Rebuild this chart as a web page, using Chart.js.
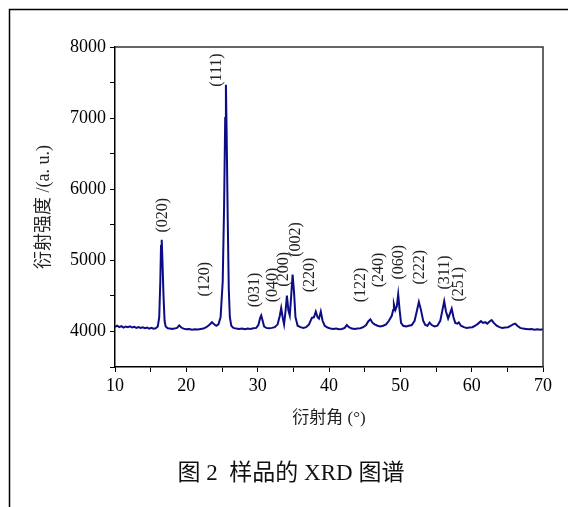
<!DOCTYPE html>
<html>
<head>
<meta charset="utf-8">
<script src="https://cdn.jsdelivr.net/npm/chart.js@4.4.0/dist/chart.umd.min.js"></script>
<style>
  body { margin: 0; background: #fff; }
  canvas { display: block; }
</style>
</head>
<body>
<canvas id="xrd-chart" width="568" height="507"></canvas>
<script>
// Data
const angles = [
  10.0, 10.3, 10.6, 10.9, 11.2, 11.5, 11.8, 12.1, 12.4, 12.7, 13.0, 13.3, 13.6, 13.9, 14.2, 14.5, 14.8, 15.1, 15.4, 15.7,
  16.0, 16.2, 16.35, 16.45, 16.55, 16.65, 16.8, 16.95, 17.1, 17.4, 17.7, 18.0, 18.3, 18.7, 19.0, 19.3, 19.6, 20.0,
  20.4, 20.8, 21.2, 21.6, 22.0, 22.4, 22.8, 23.2, 23.6, 23.9, 24.2, 24.5, 24.8, 25.1, 25.3, 25.45, 25.55, 25.65, 25.8,
  25.95, 26.1, 26.3, 26.6, 27.0, 27.4, 27.8, 28.2, 28.6, 29.0, 29.4, 29.8, 30.1, 30.35, 30.5, 30.7, 30.9, 31.2, 31.6,
  32.0, 32.4, 32.8, 33.1, 33.3, 33.5, 33.7, 33.9, 34.1, 34.3, 34.5, 34.7, 34.9, 35.1, 35.3, 35.6, 36.0, 36.4, 36.8,
  37.2, 37.6, 37.9, 38.15, 38.4, 38.6, 38.85, 39.1, 39.4, 39.8, 40.2, 40.6, 41.0, 41.4, 41.8, 42.2, 42.5, 42.8, 43.2,
  43.6, 44.0, 44.4, 44.8, 45.2, 45.5, 45.8, 46.1, 46.4, 46.8, 47.2, 47.6, 48.0, 48.4, 48.8, 49.0, 49.1, 49.3, 49.5,
  49.7, 49.9, 50.1, 50.4, 50.8, 51.2, 51.6, 52.0, 52.3, 52.6, 52.9, 53.2, 53.5, 53.8, 54.1, 54.4, 54.8, 55.2, 55.6,
  55.9, 56.15, 56.4, 56.7, 56.95, 57.2, 57.45, 57.7, 58.0, 58.2, 58.5, 58.9, 59.3, 59.7, 60.1, 60.5, 60.9, 61.3, 61.6,
  61.9, 62.2, 62.5, 62.8, 63.1, 63.5, 63.9, 64.3, 64.7, 65.1, 65.5, 65.8, 66.1, 66.4, 66.8, 67.2, 67.6, 68.0, 68.4,
  68.8, 69.2, 69.6, 70.0
];
const intensity = [
  4065, 4080, 4060, 4075, 4055, 4070, 4060, 4072, 4055, 4065, 4050, 4062, 4048, 4058, 4045, 4055, 4040, 4050, 4038, 4045,
  4070, 4200, 4700, 5200, 5290, 5000, 4500, 4150, 4070, 4045, 4040, 4035, 4040, 4050, 4085, 4055, 4040, 4030,
  4035, 4025, 4030, 4028, 4035, 4040, 4060, 4090, 4130, 4100, 4080, 4100, 4200, 4700, 5800, 7000, 7470, 6800, 5600,
  4600, 4200, 4080, 4050, 4040, 4035, 4040, 4030, 4040, 4035, 4045, 4050, 4090, 4190, 4225, 4150, 4070, 4050, 4045,
  4050, 4060, 4100, 4220, 4330, 4200, 4100, 4280, 4505, 4300, 4225, 4500, 4800, 4550, 4200, 4080, 4060, 4050, 4060,
  4100, 4190, 4200, 4280, 4200, 4180, 4280, 4150, 4080, 4055, 4040, 4035, 4040, 4030, 4035, 4050, 4090, 4060, 4040,
  4035, 4040, 4045, 4060, 4090, 4140, 4170, 4120, 4100, 4080, 4070, 4080, 4100, 4150, 4220, 4300, 4380, 4300, 4350,
  4520, 4300, 4120, 4080, 4070, 4080, 4090, 4150, 4280, 4415, 4300, 4150, 4090, 4080, 4125, 4090, 4070, 4080, 4150,
  4300, 4425, 4280, 4180, 4250, 4320, 4200, 4120, 4110, 4125, 4080, 4060, 4050, 4055, 4060, 4080, 4110, 4145, 4120,
  4130, 4110, 4140, 4160, 4120, 4080, 4060, 4050, 4055, 4060, 4080, 4100, 4110, 4080, 4050, 4040, 4035, 4030, 4035,
  4025, 4030, 4025, 4030
];

// Peak labels: text, angle, intensity where the text starts
const peakNames = ['(020)', '(111)', '(120)', '(031)', '(040)', '(200)', '(002)', '(220)',
                   '(122)', '(240)', '(060)', '(222)', '(311)', '(251)'];
const peakAngles = [16.73, 24.3, 22.62, 29.63, 32.15, 33.69, 35.37, 37.34,
                    44.45, 47.05, 49.72, 52.66, 56.26, 58.13];
const peakLabelY = [5390, 7440, 4490, 4340, 4410, 4630, 5050, 4550,
                    4410, 4620, 4730, 4660, 4590, 4420];

const serif = '"Liberation Serif", "Noto Sans CJK SC", serif';

const points = angles.map((a, i) => ({ x: a, y: intensity[i] }));

// box, peak labels, page frame and caption
const extras = {
  id: 'extras',
  beforeDraw(chart) {
    const ctx = chart.ctx;
    ctx.save();
    ctx.strokeStyle = '#000';
    ctx.lineWidth = 1.5;
    ctx.beginPath();
    ctx.moveTo(9.5, 507);
    ctx.lineTo(9.5, 9.5);
    ctx.lineTo(568, 9.5);
    ctx.stroke();
    ctx.restore();
  },
  afterDatasetsDraw(chart) {
    const ctx = chart.ctx;
    const a = chart.chartArea;
    const xs = chart.scales.x;
    const ys = chart.scales.y;
    ctx.save();
    ctx.strokeStyle = '#333';
    ctx.lineWidth = 1.5;
    ctx.beginPath();
    ctx.moveTo(a.left, a.top);
    ctx.lineTo(a.right, a.top);
    ctx.lineTo(a.right, a.bottom);
    ctx.stroke();

    ctx.fillStyle = '#222';
    ctx.font = '16px ' + serif;
    ctx.textAlign = 'left';
    ctx.textBaseline = 'middle';
    peakNames.forEach((name, i) => {
      ctx.save();
      ctx.translate(xs.getPixelForValue(peakAngles[i]), ys.getPixelForValue(peakLabelY[i]));
      ctx.rotate(-Math.PI / 2);
      ctx.fillText(name, 0, 0);
      ctx.restore();
    });

    ctx.fillStyle = '#111';
    ctx.font = '23px ' + serif;
    ctx.textAlign = 'center';
    ctx.fillText('图 2  样品的 XRD 图谱', 291, 474);
    ctx.restore();
  }
};

new Chart(document.getElementById('xrd-chart'), {
  type: 'line',
  data: {
    datasets: [{
      data: points,
      borderColor: '#0c0c84',
      borderWidth: 2,
      pointRadius: 0,
      tension: 0,
      fill: false
    }]
  },
  options: {
    responsive: false,
    animation: false,
    layout: { padding: { top: 47, right: 25, bottom: 70, left: 0 } },
    plugins: { legend: { display: false }, tooltip: { enabled: false } },
    scales: {
      x: {
        type: 'linear',
        min: 10,
        max: 70,
        afterFit(scale) { scale.height = 70; },
        border: { color: '#000', width: 1.5 },
        grid: { drawOnChartArea: false, tickLength: 5, tickColor: '#000' },
        ticks: {
          stepSize: 5,
          autoSkip: false,
          maxRotation: 0,
          padding: 3,
          color: '#000',
          font: { family: serif, size: 18 },
          callback: v => (v % 10 === 0 ? v : '')
        },
        title: {
          display: true,
          text: '衍射角 (°)',
          color: '#222',
          font: { family: serif, size: 17 },
          padding: { top: 0, bottom: 8 }
        }
      },
      y: {
        min: 3500,
        max: 8000,
        afterFit(scale) { scale.width = 115; },
        border: { color: '#000', width: 1.5 },
        grid: { drawOnChartArea: false, tickLength: 5, tickColor: '#000' },
        ticks: {
          stepSize: 500,
          autoSkip: false,
          padding: 4,
          color: '#000',
          font: { family: serif, size: 18 },
          callback: v => (v % 1000 === 0 ? v : '')
        },
        title: {
          display: true,
          text: '衍射强度 /(a. u.)',
          color: '#222',
          font: { family: serif, size: 18 },
          padding: { top: 33, bottom: 0 }
        }
      }
    }
  },
  plugins: [extras]
});
</script>
</body>
</html>
